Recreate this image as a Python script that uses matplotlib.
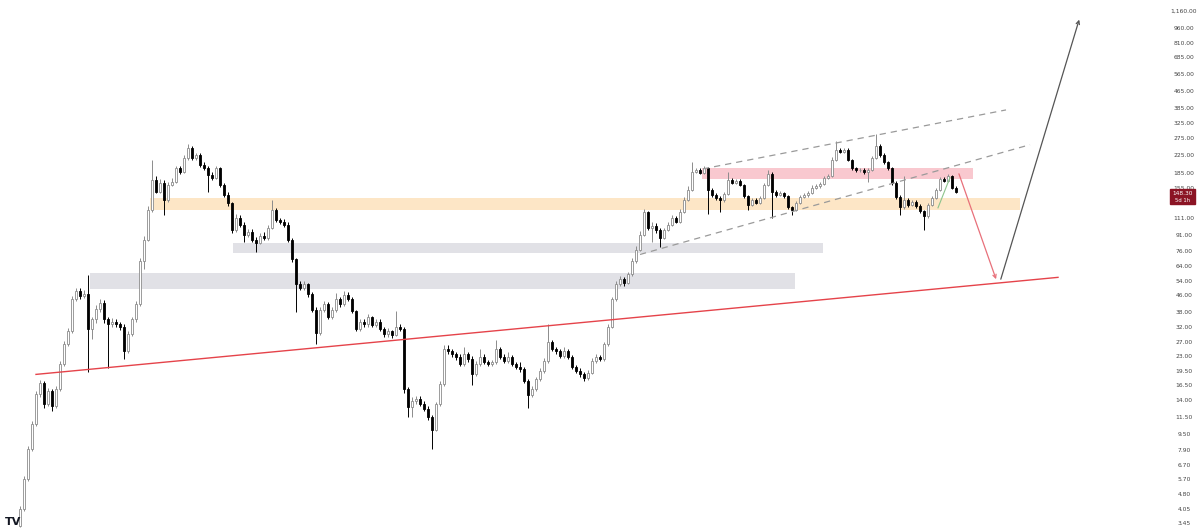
import matplotlib
matplotlib.use('Agg')
import matplotlib.pyplot as plt
import numpy as np

# daily candles (open = previous close)
first_open = 3.35
closes = [4.05, 5.7, 8.0, 10.6, 14.9, 17.0, 13.3, 15.4, 13.0, 15.8,
          21.0, 26.3, 30.5, 43.8, 48.0, 45.3, 46.4, 31.2, 34.9, 39.1,
          42.3, 34.9, 33.0, 34.0, 33.0, 32.2, 24.3, 29.5, 34.9, 41.4,
          67.5, 86.5, 121.5, 171, 149, 165, 136, 161, 167, 195,
          187, 219, 246, 219, 226, 202, 195, 181, 175, 195,
          161, 144, 131, 96.8, 111, 102.5, 91.5, 94.5, 86.5, 83.5,
          90.5, 88.5, 99, 121, 108, 106, 102.5, 86.5, 69, 52,
          50, 52, 46.4, 39, 30, 39, 41.4, 35.8, 39, 43.8,
          41.4, 46, 43.8, 38.3, 31.2, 34, 33, 35.8, 32.6, 34,
          31.2, 29.5, 30.5, 29.2, 32.2, 31.2, 15.8, 12.9, 13.8, 14.1,
          13.3, 12.6, 11.5, 10.0, 13.3, 16.7, 24.9, 24.3, 23.5, 22.8,
          21.0, 23.5, 22.2, 18.7, 21.0, 22.8, 21.5, 21.0, 21.5, 24.9,
          22.8, 21.8, 22.8, 21.0, 20.3, 19.8, 17.3, 14.8, 15.8, 17.7,
          19.4, 21.8, 26.9, 24.9, 24.3, 23.0, 24.3, 22.8, 20.3, 19.4,
          18.7, 18.0, 19.1, 21.8, 22.8, 22.2, 26.3, 32.0, 43.8, 52,
          55, 53, 58.2, 67.5, 77, 91.5, 118.5, 99, 101, 96.8,
          88.5, 96.8, 102.5, 111, 106, 118.5, 136, 152.5, 187, 191,
          185, 195, 152.5, 144, 139, 136, 145, 171, 165, 169,
          161, 142, 128.6, 136, 131, 139, 161, 183, 149, 144,
          147, 142, 125, 121.5, 131, 141, 144, 147, 156, 159,
          163, 175, 178, 214, 240, 234, 240, 214, 195, 191,
          191, 187, 191, 219, 251, 226, 209, 195, 165, 141,
          125, 136, 128.6, 133, 127, 119.5, 113, 128.6, 139, 152.5,
          173, 169, 178, 156, 148.3]
highs = [4.2, 5.9, 8.3, 11.0, 15.4, 17.6, 17.3, 16.0, 15.8, 16.3,
         21.8, 27.3, 31.5, 45.5, 50, 50, 49, 58, 36, 41,
         44, 43.5, 36, 35.5, 35, 34, 33, 30.5, 36, 43,
         70, 90, 126, 214, 178, 172, 170, 166, 175, 200,
         200, 226, 256, 250, 232, 230, 208, 200, 186, 200,
         197, 164, 148, 133, 115, 114, 105, 98, 97, 89,
         93, 94, 102, 136, 124, 111, 109, 105, 88, 70,
         54, 54, 53, 47.5, 40, 40, 43, 42.5, 40, 47,
         45, 48, 47.5, 45, 39, 35, 35, 37, 36.5, 35,
         35, 32, 31.5, 31, 38.5, 33, 32, 16.2, 14.5, 14.6,
         14.6, 13.8, 13, 11.8, 13.7, 17.3, 26, 26, 25, 24,
         23.5, 25.5, 24, 23, 21.8, 25, 23.5, 22, 22, 27.5,
         25.5, 23.5, 24, 23.3, 21.5, 21.5, 20.3, 17.7, 16.3, 18.2,
         20, 22.5, 33, 27.5, 25.5, 25, 25.5, 25, 23.3, 20.8,
         20, 19.2, 19.6, 22.5, 23.5, 23.3, 27, 33, 45, 54,
         57, 56.5, 60, 70, 80, 95, 123, 120, 105, 104,
         99, 99, 105, 114, 113, 122, 140, 158, 208, 196,
         195, 199, 197, 155, 147, 142, 149, 187, 175, 173,
         172, 163, 144, 139, 138, 142, 165, 191, 186, 151,
         150, 149, 144, 127, 134, 144, 147, 150, 160, 163,
         167, 179, 183, 220, 265, 245, 246, 244, 217, 198,
         196, 194, 195, 224, 286, 256, 230, 212, 198, 168,
         143, 178, 139, 136, 135, 129, 121, 131, 142, 156,
         177, 176, 183, 180, 158]
lows = [3.3, 3.95, 5.6, 7.8, 10.4, 14.5, 12.8, 13.0, 12.3, 12.8,
        15.5, 20.5, 25.8, 29.8, 43, 44, 44.5, 19.2, 28, 33.5,
        38, 33.5, 20.0, 32, 32, 31, 22.2, 23.8, 29, 34,
        40.5, 62, 85, 118, 146, 146, 114, 133, 158, 164,
        182, 184, 214, 214, 214, 198, 190, 148, 170, 172,
        157, 140, 127, 93, 94, 100, 84, 89, 84, 75.5,
        82, 86, 86.5, 97, 105, 103, 100, 84, 67, 38,
        48.5, 48.5, 45, 38, 26.3, 29.3, 38, 35, 35, 38,
        40, 40.5, 43, 37.5, 30.5, 30.5, 32, 32, 32, 32,
        30.5, 28.5, 28.5, 28.3, 28.8, 30.5, 15.2, 11.5, 11.5, 13.4,
        13.0, 12.3, 11.2, 8.0, 9.8, 13, 16.4, 23.5, 22.8, 22,
        20.5, 20.5, 21.5, 16.6, 18.3, 20.5, 21, 20.5, 20.6, 21,
        22.2, 21.2, 21.2, 20.5, 19.8, 19.3, 16.9, 12.7, 14.5, 15.4,
        17.3, 19, 21.3, 24.3, 23.5, 22.5, 22.5, 22.3, 19.8, 19,
        18.2, 17.3, 17.6, 18.8, 21.3, 21.7, 21.8, 25.8, 31.5, 43,
        51, 51, 52, 57, 66, 76, 90, 96, 84, 93,
        79.5, 87, 95, 101, 104, 104, 117, 134, 150, 184,
        182, 182, 116, 141, 136, 118, 133, 143, 162, 162,
        158, 139, 121, 126, 129, 129, 137, 159, 110, 141,
        142, 139, 122, 114, 120, 129, 139, 141, 145, 153,
        156, 161, 172, 176, 210, 230, 230, 210, 190, 186,
        186, 183, 167, 188, 215, 222, 205, 190, 161, 137,
        114, 122, 125, 126, 124, 117, 96.8, 111, 126, 137,
        150, 166, 166, 153, 146]

# price scale labels on the right
tick_values = [1160, 960, 810, 685, 565, 465, 385, 325, 275, 225, 185, 155, 131,
               111, 91, 76, 64, 54, 46, 38, 32, 27, 23, 19.5, 16.5, 14, 11.5,
               9.5, 7.9, 6.7, 5.7, 4.8, 4.05, 3.45]
last_price = '148.30'
countdown = '5d 1h'

# zones: (x0, x1, low, high) in bar index / price
orange_zone = (32.5, 250, 121.5, 138)
pink_zone = (170.5, 238.25, 172, 194)
gray_zone_hi = (53.25, 200.75, 74.6, 83.5)
gray_zone_lo = (17.5, 193.75, 49.1, 58.9)

# drawn lines: ((x0, p0), (x1, p1))
support_line = ((4, 18.7), (259.5, 56.3))
channel_top = ((170.75, 193), (246.5, 377))
channel_bot = ((155, 73), (252.5, 254))
path_down = ((234.5, 188), (244.25, 53.5))
path_up = ((245, 53.5), (265, 1084))
green_line = ((229.5, 124), (232.5, 175))

opens = [first_open] + closes[:-1]
n = len(closes)
idx = np.arange(n)

fig = plt.figure(figsize=(12, 5.29), dpi=100)
ax = fig.add_axes([0, 0, 1165 / 1200, 1])
ax.set_yscale('log')
ax.set_xlim(-5, 286.25)
ax.set_ylim(3.23, 1314)

### zones
for (x0, x1, lo, hi), col in [(orange_zone, '#fde6c6'), (pink_zone, '#f9c8cf'),
                              (gray_zone_hi, '#e1e1e6'), (gray_zone_lo, '#e1e1e6')]:
    ax.fill_between([x0, x1], lo, hi, color=col, lw=0, zorder=1)

### candles
o = np.array(opens)
c = np.array(closes)
up = c >= o
ax.vlines(idx[up], np.array(lows)[up], np.array(highs)[up], color='#8c8c8c', lw=0.7, zorder=3)
ax.vlines(idx[~up], np.array(lows)[~up], np.array(highs)[~up], color='black', lw=0.7, zorder=3)
bot = np.minimum(o, c)
top = np.maximum(o, c)
ax.bar(idx[up], top[up] - bot[up], bottom=bot[up], width=0.7, color='white',
       edgecolor='#8c8c8c', linewidth=0.6, zorder=4)
ax.bar(idx[~up], top[~up] - bot[~up], bottom=bot[~up], width=0.7, color='black',
       edgecolor='black', linewidth=0.6, zorder=4)

### lines
(x0, y0), (x1, y1) = support_line
ax.plot([x0, x1], [y0, y1], color='#e5434a', lw=1.0, zorder=5)
for ln in [channel_top, channel_bot]:
    (x0, y0), (x1, y1) = ln
    ax.plot([x0, x1], [y0, y1], color='#9a9a9a', lw=0.9, ls=(0, (5, 4)), zorder=5)
(x0, y0), (x1, y1) = green_line
ax.plot([x0, x1], [y0, y1], color='#8cc48c', lw=0.8, zorder=5)
ax.annotate('', xy=path_down[1], xytext=path_down[0],
            arrowprops=dict(arrowstyle='->', color='#e8707a', lw=0.9, mutation_scale=6), zorder=5)
ax.annotate('', xy=path_up[1], xytext=path_up[0],
            arrowprops=dict(arrowstyle='->', color='#555555', lw=0.9, mutation_scale=6), zorder=5)

### price scale
ax.yaxis.tick_right()
ax.set_yticks(tick_values)
ax.set_yticklabels(['{:,.2f}'.format(v) for v in tick_values])
ax.yaxis.set_minor_locator(matplotlib.ticker.NullLocator())
ax.tick_params(axis='y', length=0, pad=13.7, labelsize=4.3, labelcolor='#444444')
for lab in ax.get_yticklabels():
    lab.set_horizontalalignment('center')
ax.set_xticks([])
for s in ax.spines.values():
    s.set_visible(False)

# last price tag
fig.patches.append(matplotlib.patches.Rectangle((1170 / 1200, 1 - 204 / 529), 25 / 1200, 15 / 529,
                                                transform=fig.transFigure, color='#8b1424', zorder=10))
fig.text(1182.5 / 1200, 1 - 193.5 / 529, last_price, color='white', fontsize=4.2,
         ha='center', va='center', zorder=11)
fig.text(1182.5 / 1200, 1 - 200.5 / 529, countdown, color='white', fontsize=3.8,
         ha='center', va='center', zorder=11)

# logo
fig.text(5 / 1200, 2 / 529, 'TV', fontsize=8, fontweight='bold', color='#131722', ha='left', va='bottom')

plt.savefig('out.png', dpi=100, facecolor='white')
